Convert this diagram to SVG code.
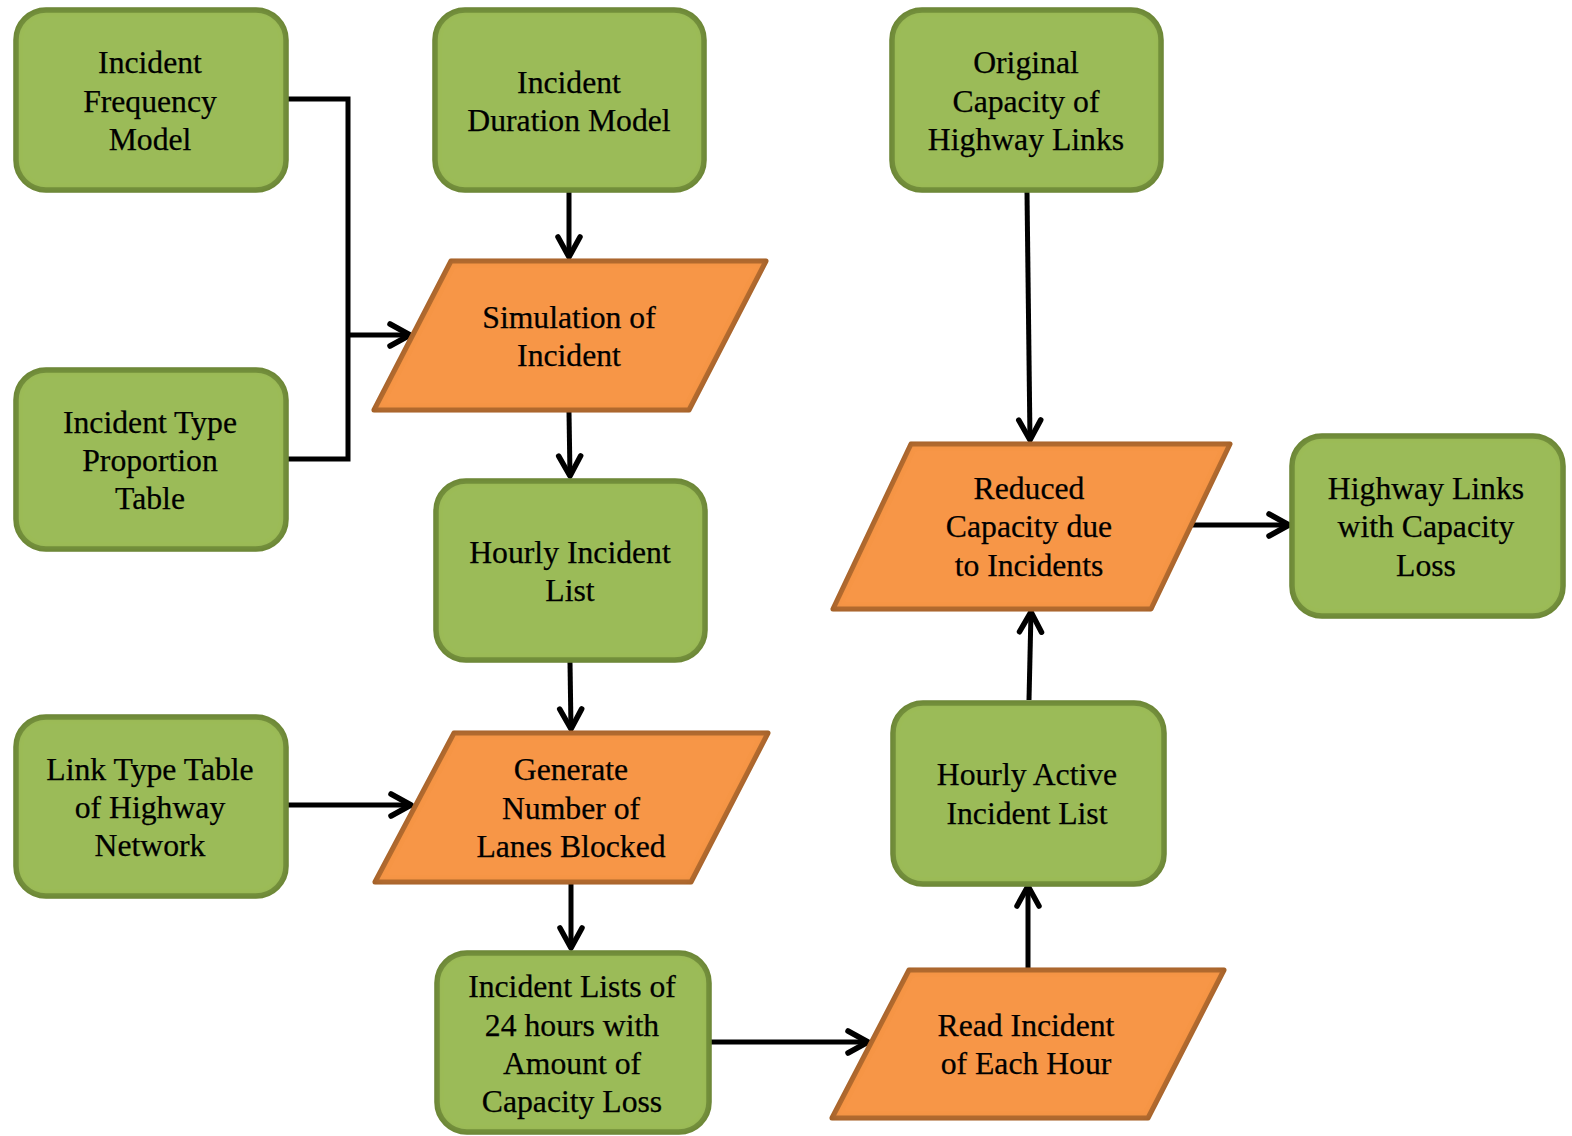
<svg xmlns="http://www.w3.org/2000/svg" width="1572" height="1136" viewBox="0 0 1572 1136" font-family="'Liberation Serif', 'Times New Roman', serif">
<defs>
<style>
.g{fill:#9BBB59;stroke:#76923C;stroke-width:5.5;filter:url(#inset)}
.o{fill:#F79646;stroke:#B66D31;stroke-width:5;stroke-linejoin:round;filter:url(#inset)}
text{font-size:31.7px;fill:#000;stroke:#000;stroke-width:0.25;text-anchor:middle}
.c{fill:none;stroke:#000;stroke-width:5}
.a{marker-end:url(#arr)}
</style>
<filter id="inset" x="-5%" y="-5%" width="110%" height="110%">
<feGaussianBlur in="SourceAlpha" stdDeviation="4" result="blur"/>
<feComposite in="SourceAlpha" in2="blur" operator="out" result="edge"/>
<feFlood flood-color="#000" flood-opacity="0.3"/>
<feComposite in2="edge" operator="in" result="shadow"/>
<feMerge><feMergeNode in="SourceGraphic"/><feMergeNode in="shadow"/></feMerge>
</filter>
<marker id="arr" markerUnits="userSpaceOnUse" viewBox="-26 -16 32 32" refX="0" refY="0" markerWidth="32" markerHeight="32" orient="auto" overflow="visible">
<path d="M-20,-11 L0,0 L-20,11" fill="none" stroke="#000" stroke-width="5.5" stroke-linecap="round" stroke-linejoin="round"/>
</marker>
</defs>
<rect width="1572" height="1136" fill="#fff"/>

<g id="connectors">
<polyline class="c" points="288,99 348,99 348,459 288,459"/>
<line class="c a" x1="348" y1="335" x2="410" y2="335"/>
<line class="c a" x1="569" y1="192" x2="569" y2="257"/>
<line class="c a" x1="569" y1="412" x2="570" y2="476"/>
<line class="c a" x1="570" y1="662" x2="571" y2="729"/>
<line class="c a" x1="288" y1="805" x2="411" y2="805"/>
<line class="c a" x1="571" y1="884" x2="571" y2="948"/>
<line class="c a" x1="709" y1="1042" x2="868" y2="1042"/>
<line class="c a" x1="1028" y1="968" x2="1028" y2="886"/>
<line class="c a" x1="1029" y1="700" x2="1031" y2="612"/>
<line class="c a" x1="1027" y1="192" x2="1030" y2="440"/>
<line class="c a" x1="1191" y1="525" x2="1289" y2="525"/>
</g>

<g id="n1"><rect class="g" x="16" y="10" width="270" height="180" rx="30"/>
<text x="150" y="73">Incident</text><text x="150" y="112">Frequency</text><text x="150" y="150">Model</text></g>

<g id="n2"><rect class="g" x="435" y="10" width="269" height="180" rx="30"/>
<text x="569" y="93">Incident</text><text x="569" y="131">Duration Model</text></g>

<g id="n3"><rect class="g" x="892" y="10" width="269" height="180" rx="30"/>
<text x="1026" y="73">Original</text><text x="1026" y="112">Capacity of</text><text x="1026" y="150">Highway Links</text></g>

<g id="n4"><rect class="g" x="16" y="370" width="270" height="179" rx="30"/>
<text x="150" y="433">Incident Type</text><text x="150" y="471">Proportion</text><text x="150" y="509">Table</text></g>

<g id="n5"><rect class="g" x="436" y="481" width="269" height="179" rx="30"/>
<text x="570" y="563">Hourly Incident</text><text x="570" y="601">List</text></g>

<g id="n6"><rect class="g" x="1292" y="436" width="271" height="180" rx="30"/>
<text x="1426" y="499">Highway Links</text><text x="1426" y="537">with Capacity</text><text x="1426" y="576">Loss</text></g>

<g id="n7"><rect class="g" x="16" y="717" width="270" height="179" rx="30"/>
<text x="150" y="780">Link Type Table</text><text x="150" y="818">of Highway</text><text x="150" y="856">Network</text></g>

<g id="n8"><rect class="g" x="893" y="703" width="271" height="181" rx="30"/>
<text x="1027" y="785">Hourly Active</text><text x="1027" y="824">Incident List</text></g>

<g id="n9"><rect class="g" x="437" y="953" width="272" height="179" rx="30"/>
<text x="572" y="997">Incident Lists of</text><text x="572" y="1036">24 hours with</text><text x="572" y="1074">Amount of</text><text x="572" y="1112">Capacity Loss</text></g>

<g id="p1"><polygon class="o" points="451,261 766,261 689,410 374,410"/>
<text x="569" y="328">Simulation of</text><text x="569" y="366">Incident</text></g>

<g id="p2"><polygon class="o" points="911,444 1230,444 1151,609 833,609"/>
<text x="1029" y="499">Reduced</text><text x="1029" y="537">Capacity due</text><text x="1029" y="576">to Incidents</text></g>

<g id="p3"><polygon class="o" points="454,733 768,733 691,882 375,882"/>
<text x="571" y="780">Generate</text><text x="571" y="819">Number of</text><text x="571" y="857">Lanes Blocked</text></g>

<g id="p4"><polygon class="o" points="909,970 1224,970 1148,1118 832,1118"/>
<text x="1026" y="1036">Read Incident</text><text x="1026" y="1074">of Each Hour</text></g>
</svg>
